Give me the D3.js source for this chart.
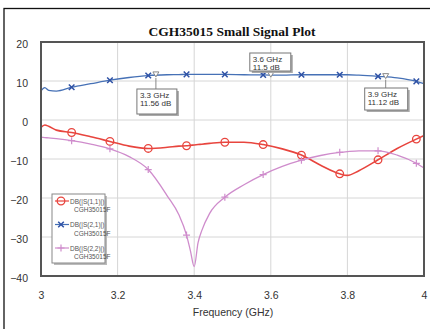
<!DOCTYPE html>
<html>
<head>
<meta charset="utf-8">
<script src="https://cdn.jsdelivr.net/npm/d3@7"></script>
<style>
	body { margin: 0; background: #fff; }
	svg { display: block; }
	text { font-family: "Liberation Sans", Arial, sans-serif; }
</style>
</head>
<body>
<svg id="chart" width="430" height="329"></svg>
<script>
// frequency grid (GHz)
const freqs = [3.00, 3.01, 3.02, 3.04, 3.08, 3.13, 3.18, 3.23, 3.28, 3.33, 3.36, 3.38, 3.39, 3.40, 3.41, 3.42, 3.44, 3.48, 3.53, 3.58, 3.63, 3.68, 3.73, 3.78, 3.80, 3.83, 3.88, 3.93, 3.98, 4.00];

// dB values per series
const s11 = [-1.9, -1.3, -1.6, -2.6, -3.2, -4.3, -5.5, -6.7, -7.3, -7.0, -6.7, -6.6, -6.5, -6.4, -6.3, -6.2, -6.0, -5.7, -5.7, -6.3, -7.4, -9.0, -11.6, -13.8, -14.2, -13.0, -10.2, -7.3, -4.9, -4.0];
const s21 = [7.5, 8.3, 7.6, 7.4, 8.4, 9.3, 10.2, 10.9, 11.4, 11.6, 11.65, 11.7, 11.7, 11.7, 11.7, 11.7, 11.7, 11.7, 11.6, 11.55, 11.5, 11.6, 11.6, 11.6, 11.6, 11.5, 11.2, 10.8, 9.9, 9.3];
const s22 = [-4.4, -4.5, -4.6, -4.8, -5.3, -6.2, -7.4, -9.4, -12.7, -19.5, -24.3, -29.5, -33.5, -37.6, -31.5, -28.3, -24.0, -19.8, -16.6, -14.0, -11.9, -10.3, -9.1, -8.3, -8.1, -7.9, -7.9, -9.0, -11.1, -12.3];

// symbol positions along each trace
const markerFreqs = [3.08, 3.18, 3.28, 3.38, 3.48, 3.58, 3.68, 3.78, 3.88, 3.98];

// marker callouts on S21
const calloutFreqs = [3.3, 3.6, 3.9];
const calloutValues = [11.56, 11.5, 11.12];
const calloutLabels = [["3.3 GHz", "11.56 dB"], ["3.6 GHz", "11.5 dB"], ["3.9 GHz", "11.12 dB"]];

const xTicks = [3, 3.2, 3.4, 3.6, 3.8, 4];
const yTicks = [20, 10, 0, -10, -20, -30, -40];

const series = [
	{name: "DB(|S(1,1)|)", sub: "CGH35015F", values: s11, color: "#e8453e", marker: "circle"},
	{name: "DB(|S(2,1)|)", sub: "CGH35015F", values: s21, color: "#4671b6", marker: "x"},
	{name: "DB(|S(2,2)|)", sub: "CGH35015F", values: s22, color: "#cf8ccc", marker: "plus"}
];

const svg = d3.select("#chart");
const plot = {left: 41, right: 424, top: 42, bottom: 276};

const x = d3.scaleLinear().domain([3, 4]).range([plot.left, plot.right]);
const y = d3.scaleLinear().domain([-40, 20]).range([plot.bottom, plot.top]);

// outer frame
svg.append("rect")
	.attr("x", 4).attr("y", 8.5).attr("width", 440).attr("height", 340)
	.attr("fill", "none").attr("stroke", "#111").attr("stroke-width", 1.3);

svg.append("text")
	.attr("x", 232).attr("y", 36)
	.attr("text-anchor", "middle")
	.style("font-family", "'Liberation Serif', 'Times New Roman', serif")
	.style("font-weight", "bold").style("font-size", "13.5px")
	.attr("fill", "#111")
	.text("CGH35015 Small Signal Plot");

// grid
const grid = svg.append("g");
grid.selectAll(".gx").data(xTicks.slice(1, -1)).join("line")
	.attr("x1", d => x(d)).attr("x2", d => x(d))
	.attr("y1", plot.top).attr("y2", plot.bottom)
	.attr("stroke", "#d6d6d6").attr("stroke-width", 1);
grid.selectAll(".gy").data(yTicks.slice(1, -1)).join("line")
	.attr("y1", d => y(d)).attr("y2", d => y(d))
	.attr("x1", plot.left).attr("x2", plot.right)
	.attr("stroke", "#d6d6d6").attr("stroke-width", 1);

// axes
const xAxis = svg.append("g")
	.attr("transform", `translate(0,${plot.bottom + 16})`)
	.call(d3.axisBottom(x).tickValues(xTicks).tickSize(0).tickPadding(0).tickFormat(d3.format("")));
const yAxis = svg.append("g")
	.attr("transform", "translate(28,0)")
	.call(d3.axisLeft(y).tickValues(yTicks).tickSize(0).tickPadding(0));
[xAxis, yAxis].forEach(a => {
	a.select(".domain").remove();
	a.selectAll("text").style("font-size", "10.5px").attr("fill", "#333")
		.style("font-family", "'Liberation Sans', Arial, sans-serif");
});
yAxis.selectAll("text").attr("dy", "0.5em");

svg.append("text")
	.attr("x", 233).attr("y", 316)
	.attr("text-anchor", "middle")
	.style("font-size", "10.5px").attr("fill", "#333")
	.text("Frequency (GHz)");

// traces
const line = d3.line()
	.x(d => x(d[0]))
	.y(d => y(d[1]))
	.curve(d3.curveMonotoneX);

const traces = svg.append("g");

function valueAt(values, f) {
	const i = d3.bisectLeft(freqs, f);
	if (freqs[i] === f) return values[i];
	const t = (f - freqs[i - 1]) / (freqs[i] - freqs[i - 1]);
	return values[i - 1] + t * (values[i] - values[i - 1]);
}

function drawMarker(g, kind, cx, cy, color, r) {
	if (kind === "circle") {
		g.append("circle").attr("cx", cx).attr("cy", cy).attr("r", r)
			.attr("fill", "none").attr("stroke", color).attr("stroke-width", 1.3);
	} else if (kind === "x") {
		const s = r * 0.8;
		g.append("path")
			.attr("d", `M${cx - s},${cy - s}L${cx + s},${cy + s}M${cx - s},${cy + s}L${cx + s},${cy - s}`)
			.attr("stroke", "#2f52a6").attr("stroke-width", 1.5);
	} else {
		g.append("path")
			.attr("d", `M${cx - r},${cy}L${cx + r},${cy}M${cx},${cy - r}L${cx},${cy + r}`)
			.attr("stroke", color).attr("stroke-width", 1.2);
	}
}

series.forEach(s => {
	traces.append("path")
		.datum(freqs.map((f, i) => [f, s.values[i]]))
		.attr("fill", "none")
		.attr("stroke", s.color)
		.attr("stroke-width", s.marker === "circle" ? 1.6 : 1.3)
		.attr("d", line);
	markerFreqs.forEach(f => {
		drawMarker(traces, s.marker, x(f), y(valueAt(s.values, f)), s.color, s.marker === "circle" ? 3.8 : 3.5);
	});
});

// plot frame
svg.append("rect")
	.attr("x", plot.left).attr("y", plot.top)
	.attr("width", plot.right - plot.left).attr("height", plot.bottom - plot.top)
	.attr("fill", "none").attr("stroke", "#555").attr("stroke-width", 2);

// callouts
const boxes = [
	{dx: -19, top: 89, w: 40, h: 25},
	{dx: -21, top: 53, w: 41, h: 18},
	{dx: -21, top: 88, w: 43, h: 22}
];
const callouts = svg.append("g");
calloutFreqs.forEach((f, i) => {
	const px = x(f), py = y(calloutValues[i]);
	const b = boxes[i];
	const bx = px + b.dx;
	const above = b.top < py;
	callouts.append("line")
		.attr("x1", px).attr("x2", px)
		.attr("y1", above ? b.top + b.h : py + 3).attr("y2", above ? py - 3 : b.top)
		.attr("stroke", "#888").attr("stroke-width", 1);
	callouts.append("path")
		.attr("d", `M${px - 3},${py - 3}L${px + 3},${py - 3}L${px},${py + 2}Z`)
		.attr("fill", "#fff").attr("stroke", "#888").attr("stroke-width", 1);
	callouts.append("rect")
		.attr("x", bx + 2).attr("y", b.top + 2).attr("width", b.w).attr("height", b.h)
		.attr("fill", "#aaa");
	callouts.append("rect")
		.attr("x", bx).attr("y", b.top).attr("width", b.w).attr("height", b.h)
		.attr("fill", "#fff").attr("stroke", "#777").attr("stroke-width", 1);
	calloutLabels[i].forEach((t, j) => {
		callouts.append("text")
			.attr("x", bx + 3).attr("y", b.top + 8.5 + j * 8.5)
			.style("font-size", "8px").attr("fill", "#333")
			.text(t);
	});
});

// legend
const legend = svg.append("g").attr("transform", "translate(52,194)");
legend.append("rect").attr("x", 2).attr("y", 2).attr("width", 53).attr("height", 69).attr("fill", "#bbb");
legend.append("rect").attr("width", 53).attr("height", 69)
	.attr("fill", "#fff").attr("stroke", "#888").attr("stroke-width", 1);
series.forEach((s, i) => {
	const ry = 7 + i * 23.5;
	legend.append("line").attr("x1", 3).attr("x2", 17).attr("y1", ry).attr("y2", ry)
		.attr("stroke", s.color).attr("stroke-width", 1.2);
	drawMarker(legend, s.marker, 9, ry, s.color, s.marker === "circle" ? 3.8 : 3.5);
	legend.append("text").attr("x", 18).attr("y", ry + 2.5)
		.style("font-size", "6.5px").attr("fill", "#555").text(s.name);
	legend.append("text").attr("x", 22).attr("y", ry + 11)
		.style("font-size", "6.5px").attr("fill", "#555").text(s.sub);
});
</script>
</body>
</html>
